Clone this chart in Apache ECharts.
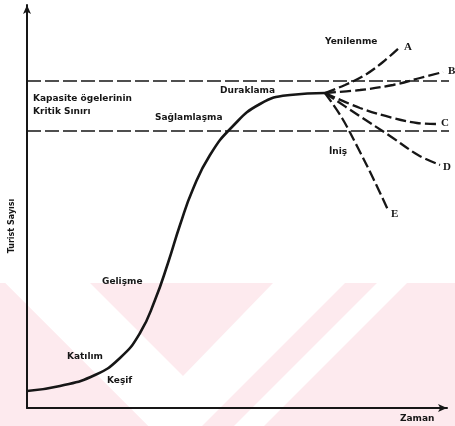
<!DOCTYPE html>
<html>
<head>
<meta charset="utf-8">
<script src="https://cdn.jsdelivr.net/npm/echarts@6/dist/echarts.min.js"></script>
<style>
html,body{margin:0;padding:0;background:#fff}
#chart{width:455px;height:426px}
</style>
</head>
<body>
<div id="chart"></div>
<script>
// tourist area life cycle, values in axis units (time, tourists)
const mainCurve = [[0,17],[33,22],[68,33],[93,50],[113,75],[128,108],[141,145],[153,183],[166,219],[183,253],[205,281],[233,304],[263,313],[298,315]];
const branchA = [[298,315],[318,323],[338,333],[356,346],[373,361]];
const branchB = [[298,315],[333,318],[366,323],[393,330],[416,336]];
const branchC = [[298,315],[333,300],[366,290],[390,285],[410,284]];
const branchD = [[298,315],[331,293],[363,272],[391,253],[413,243]];
const branchE = [[298,315],[315,290],[331,260],[346,230],[361,198]];
const capacityLevels = [327, 277];
const branchNames = ['A','B','C','D','E'];

var chart = echarts.init(document.getElementById('chart'));

const ink = '#161616';
const labelFont = 'bold 9px "DejaVu Sans", Verdana, sans-serif';
const letterFont = 'bold 11px "Liberation Serif", "Times New Roman", serif';

function txt(text, x, y, font, extra) {
  return Object.assign({
    type: 'text', x: x, y: y, z: 20,
    style: { text: text, font: font || labelFont, fill: ink, textVerticalAlign: 'middle' }
  }, extra || {});
}

var branchSeries = [branchA, branchB, branchC, branchD, branchE].map(function (d, i) {
  return {
    name: branchNames[i],
    type: 'line', data: d, smooth: 0.35, symbol: 'none', clip: false,
    lineStyle: { color: ink, width: 2.3, type: [11, 4] }
  };
});

var capSeries = capacityLevels.map(function (v) {
  return {
    type: 'line', data: [[0, v], [428, v]], symbol: 'none', clip: false,
    lineStyle: { color: ink, width: 1.4, type: [14, 4] }
  };
});

var option = {
  animation: false,
  backgroundColor: '#fff',
  grid: { left: 27, top: 5, width: 420, height: 403 },
  xAxis: {
    type: 'value', min: 0, max: 420,
    axisLine: { show: true, symbol: ['none', 'arrow'], symbolSize: [6, 9], lineStyle: { color: ink, width: 2 } },
    axisTick: { show: false }, axisLabel: { show: false }, splitLine: { show: false }
  },
  yAxis: {
    type: 'value', min: 0, max: 403,
    axisLine: { show: true, symbol: ['none', 'arrow'], symbolSize: [6, 9], lineStyle: { color: ink, width: 2 } },
    axisTick: { show: false }, axisLabel: { show: false }, splitLine: { show: false }
  },
  series: [{
    type: 'line', data: mainCurve, smooth: 0.5, symbol: 'none', clip: false,
    lineStyle: { color: ink, width: 2.6 }
  }].concat(branchSeries, capSeries),
  graphic: [
    // faint watermark in the lower part
    { type: 'rect', z: -5, shape: { x: 0, y: 283, width: 455, height: 143 }, style: { fill: '#fdeaee' } },
    { type: 'polygon', z: -4, shape: { points: [[5,283],[90,283],[183,376],[273,283],[345,283],[202,426],[148,426]] }, style: { fill: '#fff' } },
    { type: 'polygon', z: -4, shape: { points: [[377,283],[407,283],[264,426],[234,426]] }, style: { fill: '#fff' } },
    { type: 'polygon', z: -4, shape: { points: [[0,358],[0,283],[5,283],[148,426],[68,426]] }, style: { fill: '#fdeaee' } },
    txt('Kapasite ögelerinin', 33, 99),
    txt('Kritik Sınırı', 33, 112),
    txt('Sağlamlaşma', 155, 118),
    txt('Duraklama', 220, 91),
    txt('Yenilenme', 325, 42),
    txt('İniş', 329, 152),
    txt('Gelişme', 102, 282),
    txt('Katılım', 67, 357),
    txt('Keşif', 107, 381),
    txt('Zaman', 400, 419),
    {
      type: 'text', x: 12, y: 226, z: 20, rotation: Math.PI / 2,
      style: { text: 'Turist Sayısı', font: 'bold 8px "DejaVu Sans", Verdana, sans-serif', fill: ink, textAlign: 'center', textVerticalAlign: 'middle' }
    },
    txt('A', 404, 47, letterFont),
    txt('B', 448, 71, letterFont),
    txt('C', 441, 123, letterFont),
    txt('D', 443, 167, letterFont),
    txt('E', 391, 214, letterFont)
  ]
};
chart.setOption(option);
</script>
</body>
</html>
